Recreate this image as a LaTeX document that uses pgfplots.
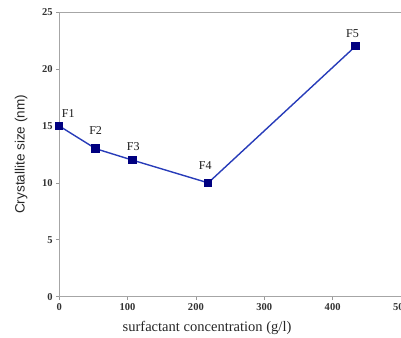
\documentclass[border=0pt]{standalone}
\usepackage{pgfplots}
\pgfplotsset{compat=1.18}
\usepackage{fontspec}
\setmainfont{Liberation Serif}
\setsansfont{Liberation Sans}
\definecolor{lineblue}{RGB}{40,60,185}
\definecolor{markblue}{RGB}{0,0,128}
\begin{document}
\begin{tikzpicture}[trim axis right]
\begin{axis}[
  scale only axis,
  width=341pt, height=284pt,
  xmin=0, xmax=500, ymin=0, ymax=25,
  xtick={0,100,...,500}, ytick={0,5,...,25},
  tick align=outside,
  major tick length=3pt,
  xtick pos=bottom, ytick pos=left,
  axis line style={draw=gray!70, line width=0.8pt},
  tick style={draw=gray!80, line width=0.6pt},
  tick label style={font=\fontsize{10.5}{12}\selectfont\bfseries, text=black!80},
  /pgf/number format/assume math mode=true,
  xlabel={surfactant concentration (g/l)},
  ylabel={Crystallite size (nm)},
  xlabel style={font=\fontsize{14.5}{16}\selectfont, text=black!85,
    at={(axis description cs:0.4326,0)}, anchor=center, yshift=-31pt},
  ylabel style={font=\sffamily\fontsize{13.5}{15}\selectfont, text=black!85,
    at={(axis description cs:-0.111,0.5)}, anchor=center},
  clip=false,
]
\addplot[color=lineblue, line width=1.4pt, mark=square*, mark size=3.5pt,
  mark options={fill=markblue, draw=markblue},
  visualization depends on={\thisrow{dx} \as \dx},
  visualization depends on={\thisrow{dy} \as \dy},
  nodes near coords, point meta=explicit symbolic,
  every node near coord/.append style={font=\fontsize{12}{13}\selectfont, text=black!90,
    anchor=center, xshift=\dx pt, yshift=\dy pt}]
  table[meta=lab] {
x y lab dx dy
0 15 F1 9 12
53.4 13 F2 0 18
107 12 F3 1 13
218 10 F4 -3 17
433.5 22 F5 -3 12.5
};
\end{axis}
\path ([xshift=-59pt]current axis.south west);
\path ([yshift=12pt]current axis.north west);
\end{tikzpicture}
\end{document}
